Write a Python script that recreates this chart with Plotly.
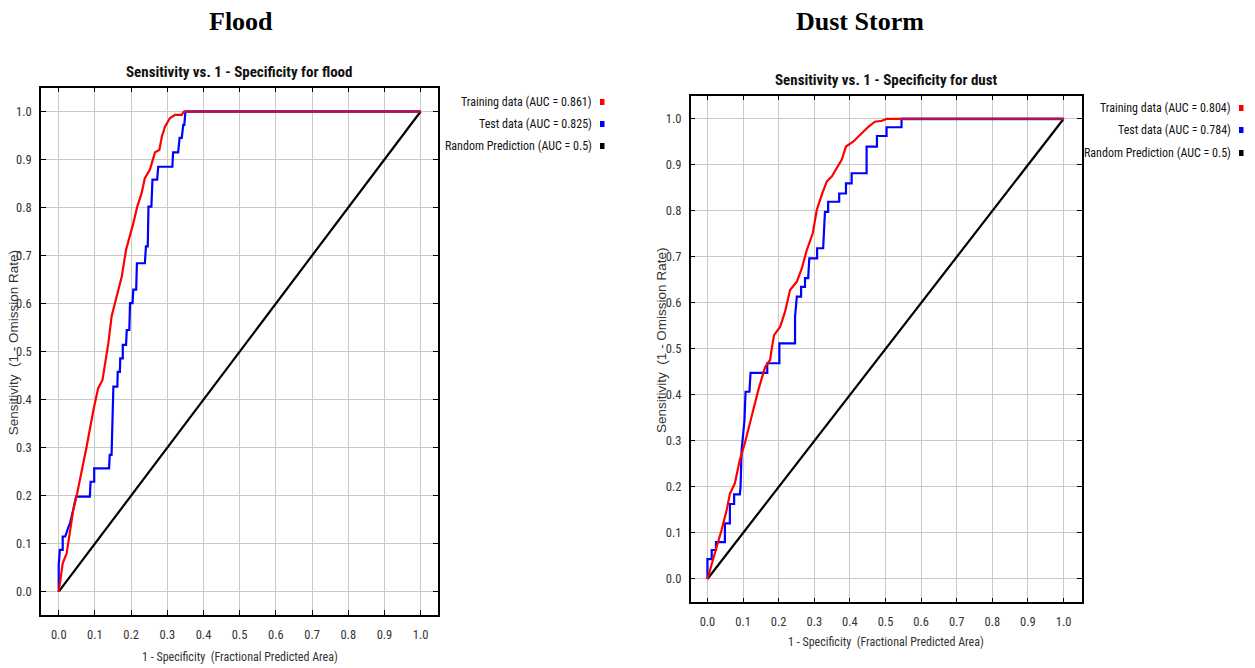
import plotly.graph_objects as go

# ---------------- data ----------------
panel_titles = ["Flood", "Dust Storm"]
plot_titles = ["Sensitivity vs. 1 - Specificity for flood",
               "Sensitivity vs. 1 - Specificity for dust"]
x_title = "1 - Specificity  (Fractional Predicted Area)"
y_title = "Sensitivity  (1 - Omission Rate)"

tick_values = [0.0, 0.1, 0.2, 0.3, 0.4, 0.5, 0.6, 0.7, 0.8, 0.9, 1.0]
tick_labels = ["0.0", "0.1", "0.2", "0.3", "0.4", "0.5", "0.6", "0.7", "0.8", "0.9", "1.0"]

flood_auc = [0.861, 0.825, 0.5]
dust_auc = [0.804, 0.784, 0.5]
series_names = ["Training data", "Test data", "Random Prediction"]

flood_train_x = [0.000, 0.004, 0.011, 0.022, 0.031, 0.040, 0.051, 0.063, 0.077, 0.096, 0.109,
                 0.121, 0.130, 0.137, 0.146, 0.160, 0.174, 0.186, 0.197, 0.206, 0.217, 0.229,
                 0.238, 0.252, 0.266, 0.278, 0.285, 0.294, 0.307, 0.321, 0.340, 0.346, 1.000]
flood_train_y = [0.000, 0.024, 0.059, 0.080, 0.128, 0.170, 0.205, 0.247, 0.302, 0.379, 0.424,
                 0.441, 0.483, 0.517, 0.573, 0.615, 0.656, 0.712, 0.740, 0.767, 0.802, 0.830,
                 0.861, 0.879, 0.915, 0.920, 0.948, 0.969, 0.986, 0.993, 0.993, 1.000, 1.000]

flood_test_x = [0.000, 0.000, 0.003, 0.011, 0.011, 0.018, 0.027, 0.031, 0.040, 0.048, 0.086,
                0.088, 0.098, 0.098, 0.139, 0.141, 0.146, 0.150, 0.151, 0.162, 0.163, 0.169,
                0.170, 0.177, 0.177, 0.186, 0.188, 0.195, 0.197, 0.204, 0.206, 0.214, 0.216,
                0.238, 0.241, 0.246, 0.248, 0.256, 0.259, 0.272, 0.275, 0.314, 0.316, 0.330,
                0.334, 0.340, 0.344, 0.347, 0.350, 1.000]
flood_test_y = [0.000, 0.056, 0.087, 0.087, 0.115, 0.115, 0.135, 0.142, 0.170, 0.198, 0.198,
                0.229, 0.229, 0.257, 0.257, 0.285, 0.285, 0.372, 0.427, 0.427, 0.458, 0.458,
                0.486, 0.486, 0.514, 0.514, 0.545, 0.545, 0.601, 0.601, 0.629, 0.629, 0.684,
                0.684, 0.719, 0.719, 0.802, 0.802, 0.858, 0.858, 0.885, 0.885, 0.915, 0.915,
                0.945, 0.945, 0.972, 0.972, 1.000, 1.000]

dust_train_x = [0.000, 0.012, 0.026, 0.040, 0.054, 0.063, 0.077, 0.091, 0.105, 0.124, 0.143,
                0.162, 0.176, 0.180, 0.187, 0.204, 0.218, 0.232, 0.251, 0.265, 0.279, 0.296,
                0.307, 0.321, 0.335, 0.349, 0.363, 0.377, 0.389, 0.410, 0.424, 0.438, 0.452,
                0.470, 0.490, 0.503, 1.000]
dust_train_y = [0.000, 0.034, 0.070, 0.107, 0.150, 0.185, 0.208, 0.259, 0.295, 0.353, 0.411,
                0.461, 0.476, 0.498, 0.530, 0.548, 0.581, 0.628, 0.646, 0.675, 0.715, 0.752,
                0.802, 0.835, 0.864, 0.875, 0.893, 0.911, 0.940, 0.951, 0.962, 0.973, 0.983,
                0.994, 0.996, 1.000, 1.000]

dust_test_x = [0.000, 0.000, 0.012, 0.012, 0.024, 0.024, 0.049, 0.049, 0.063, 0.063, 0.075,
               0.075, 0.091, 0.093, 0.096, 0.104, 0.107, 0.118, 0.121, 0.168, 0.168, 0.202,
               0.202, 0.246, 0.246, 0.251, 0.263, 0.263, 0.274, 0.274, 0.283, 0.286, 0.308,
               0.308, 0.325, 0.327, 0.330, 0.339, 0.339, 0.370, 0.370, 0.389, 0.389, 0.405,
               0.405, 0.447, 0.447, 0.476, 0.476, 0.503, 0.503, 0.545, 0.545, 1.000]
dust_test_y = [0.000, 0.043, 0.043, 0.063, 0.063, 0.080, 0.080, 0.121, 0.121, 0.163, 0.163,
               0.184, 0.184, 0.200, 0.280, 0.345, 0.407, 0.407, 0.448, 0.448, 0.469, 0.469,
               0.512, 0.512, 0.570, 0.614, 0.614, 0.635, 0.635, 0.654, 0.654, 0.697, 0.697,
               0.719, 0.719, 0.755, 0.798, 0.798, 0.820, 0.820, 0.838, 0.838, 0.860, 0.860,
               0.882, 0.882, 0.940, 0.940, 0.963, 0.963, 0.982, 0.982, 1.000, 1.000]

random_x = [0.0, 1.0]
random_y = [0.0, 1.0]

# ---------------- styling / layout helpers ----------------
W, H = 1255, 668
NARROW = "Liberation Sans Narrow, Arial Narrow, Roboto Condensed, Liberation Sans, sans-serif"
WIDE = "Liberation Sans, Arial, sans-serif"
SERIF = "Liberation Serif, Times New Roman, serif"
RED, BLUE, BLACK, OVERLAP = "#ff0000", "#0000ff", "#000000", "#a3175e"


def px(x):
    return x / W


def py(y):
    return 1 - y / H


panels = [
    dict(xd=(41, 438), yd=(87.5, 615), xr=(-0.049, 1.048), yr=(-0.0485, 1.050),
         big_x=241, title_y=72, xt_y=657, yt_x=13, leg_x=594, leg_y=(102, 124, 146),
         tx=flood_train_x, ty=flood_train_y, sx=flood_test_x, sy=flood_test_y, auc=flood_auc),
    dict(xd=(690.7, 1081.7), yd=(95.5, 602.3), xr=(-0.047, 1.051), yr=(-0.0507, 1.051),
         big_x=860, title_y=80, xt_y=642, yt_x=662, leg_x=1233, leg_y=(108, 130, 153),
         tx=dust_train_x, ty=dust_train_y, sx=dust_test_x, sy=dust_test_y, auc=dust_auc),
]


def overlap_from(xa, ya, xb, yb):
    top = max(max(ya), max(yb))
    sa = min(x for x, y in zip(xa, ya) if y >= top)
    sb = min(x for x, y in zip(xb, yb) if y >= top)
    return max(sa, sb), max(xa[-1], xb[-1]), top


fig = go.Figure()
annotations = []
shapes = []

for i, p in enumerate(panels):
    suf = "" if i == 0 else str(i + 1)
    xa, ya = "x" + suf, "y" + suf
    fig.add_trace(go.Scatter(x=random_x, y=random_y, mode="lines", xaxis=xa, yaxis=ya,
                             line=dict(color=BLACK, width=2.2), showlegend=False,
                             name=series_names[2]))
    fig.add_trace(go.Scatter(x=p["sx"], y=p["sy"], mode="lines", xaxis=xa, yaxis=ya,
                             line=dict(color=BLUE, width=2.2), showlegend=False,
                             name=series_names[1]))
    fig.add_trace(go.Scatter(x=p["tx"], y=p["ty"], mode="lines", xaxis=xa, yaxis=ya,
                             line=dict(color=RED, width=2.2), showlegend=False,
                             name=series_names[0]))
    s, e, top = overlap_from(p["tx"], p["ty"], p["sx"], p["sy"])
    fig.add_trace(go.Scatter(x=[s, e], y=[top, top], mode="lines", xaxis=xa, yaxis=ya,
                             line=dict(color=OVERLAP, width=2.6), showlegend=False,
                             hoverinfo="skip"))

    axis_common = dict(
        tickmode="array", tickvals=tick_values, ticktext=tick_labels,
        showgrid=True, gridcolor="#c9c9c9", gridwidth=1, zeroline=False,
        showline=True, linecolor="#000000", linewidth=1.5, mirror="ticks",
        ticks="inside", ticklen=5, tickwidth=1, tickcolor="#000000",
        tickfont=dict(family=NARROW, size=12.5, color="#333333"),
    )
    fig.update_layout(**{
        "xaxis" + suf: dict(axis_common, domain=[px(p["xd"][0]), px(p["xd"][1])],
                            range=list(p["xr"]), anchor=ya, ticklabelstandoff=7),
        "yaxis" + suf: dict(axis_common, domain=[py(p["yd"][1]), py(p["yd"][0])],
                            range=list(p["yr"]), anchor=xa, ticklabelstandoff=5),
    })

    cx = (p["xd"][0] + p["xd"][1]) / 2
    cy = (p["yd"][0] + p["yd"][1]) / 2
    annotations += [
        dict(text="<b>%s</b>" % panel_titles[i], x=px(p["big_x"]), y=py(22), xref="paper",
             yref="paper", showarrow=False, font=dict(family=SERIF, size=26, color="#000000"),
             xanchor="center", yanchor="middle"),
        dict(text="<b>%s</b>" % plot_titles[i], x=px(cx), y=py(p["title_y"]), xref="paper",
             yref="paper", showarrow=False, font=dict(family=NARROW, size=15, color="#111111"),
             xanchor="center", yanchor="middle"),
        dict(text=x_title, x=px(cx), y=py(p["xt_y"]), xref="paper", yref="paper",
             showarrow=False, font=dict(family=NARROW, size=12, color="#333333"),
             xanchor="center", yanchor="middle"),
        dict(text=y_title, x=px(p["yt_x"]), y=py(cy - 8), xref="paper", yref="paper",
             showarrow=False, textangle=-90, font=dict(family=WIDE, size=13.5, color="#333333"),
             xanchor="center", yanchor="middle"),
    ]
    colors = [RED, BLUE, BLACK]
    for k in range(3):
        label = "%s (AUC = %s)" % (series_names[k], ("%.3f" % p["auc"][k]) if k < 2 else "0.5")
        annotations.append(dict(text=label, x=px(p["leg_x"]), y=py(p["leg_y"][k]), xref="paper",
                                yref="paper", showarrow=False, xanchor="right", yanchor="middle",
                                font=dict(family=NARROW, size=12, color="#111111")))
        mx = p["leg_x"] + 6
        shapes.append(dict(type="rect", xref="paper", yref="paper",
                           x0=px(mx), x1=px(mx + 4.5), y0=py(p["leg_y"][k] + 3),
                           y1=py(p["leg_y"][k] - 3), fillcolor=colors[k], line=dict(width=0)))

fig.update_layout(
    width=W, height=H, margin=dict(l=0, r=0, t=0, b=0),
    paper_bgcolor="#ffffff", plot_bgcolor="#ffffff",
    annotations=annotations, shapes=shapes, showlegend=False,
)

fig.write_html("out.html")
